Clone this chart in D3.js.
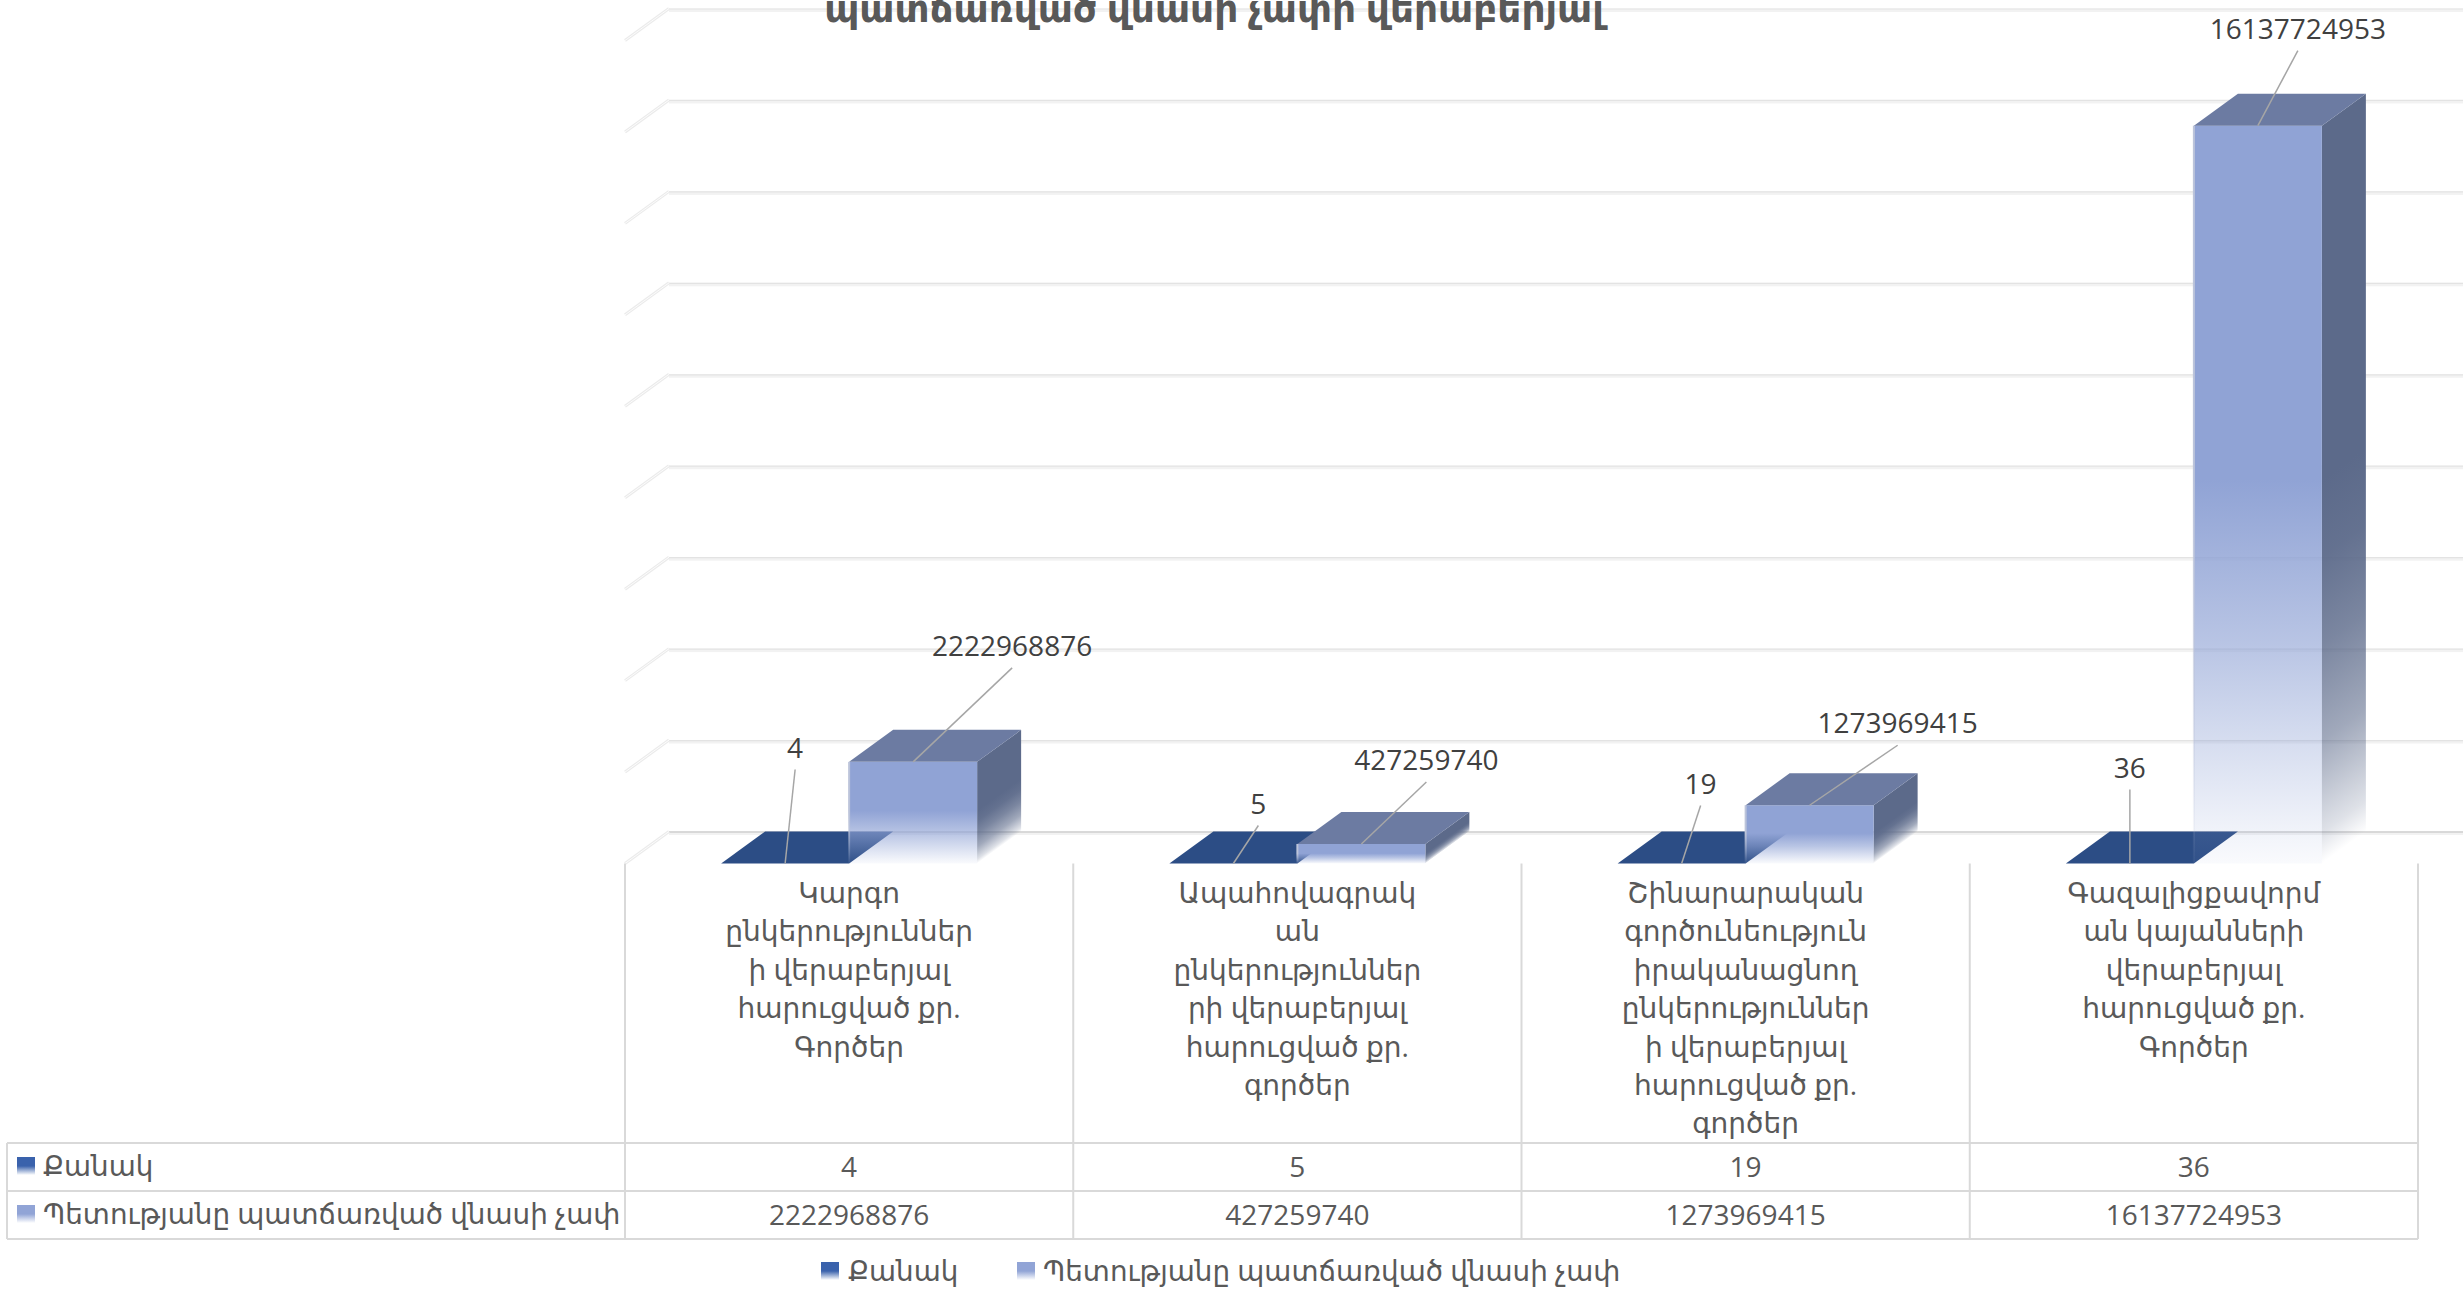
<!DOCTYPE html>
<html><head><meta charset="utf-8">
<script src="https://cdnjs.cloudflare.com/ajax/libs/d3/7.8.5/d3.min.js"></script>
<style>html,body{margin:0;padding:0;background:#fff;overflow:hidden}svg{display:block}
text{font-family:"Open Sans","DejaVu Sans",sans-serif}</style></head><body>
<svg id="c" width="2463" height="1289"></svg>
<script>
const titleText = "պատճառված վնասի չափի վերաբերյալ";
const categoryLines = [
 ["Կարգո","ընկերություններ","ի վերաբերյալ","հարուցված քր.","Գործեր"],
 ["Ապահովագրակ","ան","ընկերություններ","րի վերաբերյալ","հարուցված քր.","գործեր"],
 ["Շինարարական","գործունեություն","իրականացնող","ընկերություններ","ի վերաբերյալ","հարուցված քր.","գործեր"],
 ["Գազալիցքավորմ","ան կայանների","վերաբերյալ","հարուցված քր.","Գործեր"]
];
const seriesNames = ["Քանակ","Պետությանը պատճառված վնասի չափ"];
const countValues = [4,5,19,36];
const damageValues = [2222968876,427259740,1273969415,16137724953];
const yTickCount = 9;
const yMax = 18000000000;

// layout
const W=2463,H=1289, baseY=863.5, topY=40.5, plotL=625, plotR=2418, depthX=44, depthY=32, barW=128;
const rowY=[1143,1191,1239], tableL=7;
const labelOffsets=[
 [[10,-116],[25,-60],[19,-80],[0,-96]],
 [[99,-116],[65,-84],[88,-82],[40,-97]]
];
const frontStops=[[.48,1],[.7,.64],[.83,.38],[.956,.13],[1,.05]];
const sideStops=[[0,1],[.2,.95],[.43,.81],[.68,.58],[.92,.2],[1,0]];

const svg=d3.select("#c"), defs=svg.append("defs");
const x=d3.scaleBand().domain(d3.range(categoryLines.length)).range([plotL,plotR]);
const y=d3.scaleLinear().domain([0,yMax]).range([baseY,topY]);

const addStops=(g,col,stops)=>stops.forEach(([o,a])=>g.append("stop").attr("offset",o).attr("stop-color",col).attr("stop-opacity",a));
const fade=(id,col,stops)=>{const g=defs.append("linearGradient").attr("id",id).attr("x1",0).attr("y1",0).attr("x2",0).attr("y2",1);addStops(g,col,stops);};
fade("frontFade","#90a3d5",frontStops);
fade("edgeFade","#bcc4da",frontStops);
fade("key0","#3a62ac",[[.5,1],[1,0]]); fade("key1","#91a4d6",[[.5,1],[1,0]]);

// grid
const gridG=svg.append("g");
y.ticks(yTickCount).forEach(t=>{
 const yb=y(t)-depthY, xb=plotL+depthX;
 gridG.append("rect").attr("x",xb).attr("y",yb).attr("width",W-xb).attr("height",3.5).attr("fill","#f2f2f2");
 gridG.append("line").attr("x1",xb).attr("x2",W).attr("y1",yb+.5).attr("y2",yb+.5).attr("stroke",t===0?"#cfcfcf":"#e3e3e3").attr("stroke-width",t===0?1.5:1.2);
 gridG.append("line").attr("x1",plotL).attr("y1",y(t)).attr("x2",xb).attr("y2",yb).attr("stroke","#ebebeb").attr("stroke-width",3);
 gridG.append("line").attr("x1",plotL).attr("y1",y(t)).attr("x2",xb).attr("y2",yb).attr("stroke","#fcfcfc").attr("stroke-width",1);
});

// table frame
const tg=svg.append("g").attr("stroke","#d9d9d9").attr("stroke-width",2);
d3.range(categoryLines.length+1).forEach(i=>{
 const xx=i<categoryLines.length?x(i):plotR;
 tg.append("line").attr("x1",xx).attr("x2",xx).attr("y1",baseY).attr("y2",rowY[2]);
});
tg.append("line").attr("x1",tableL).attr("x2",tableL).attr("y1",rowY[0]).attr("y2",rowY[2]);
rowY.forEach(r=>tg.append("line").attr("x1",tableL).attr("x2",plotR).attr("y1",r).attr("y2",r));

// bars
const poly=pts=>pts.map(p=>p.join(",")).join(" ");
const barsG=svg.append("g");
const drawBar=(i,s,v)=>{
 const x0=x(i)+x.bandwidth()/2+(s===0?-barW:0), x1=x0+barW, yt=y(v), yb=baseY, h=yb-yt;
 const g=barsG.append("g");
 if(s===1){
  const ys=yt+0.48*h, n=Math.hypot(depthX,depthY), nx=depthY/n, ny=depthX/n, t=(yb-ys)*ny;
  const gid=`side${i}`, sg=defs.append("linearGradient").attr("id",gid).attr("gradientUnits","userSpaceOnUse")
   .attr("x1",x1).attr("y1",ys).attr("x2",x1+t*nx).attr("y2",ys+t*ny);
  addStops(sg,"#5c6a8a",sideStops);
  g.append("polygon").attr("points",poly([[x1,yt],[x1+depthX,yt-depthY],[x1+depthX,yb-depthY],[x1,yb]])).attr("fill",`url(#${gid})`);
  g.append("rect").attr("x",x0).attr("y",yt).attr("width",barW).attr("height",h).attr("fill","url(#frontFade)");
  g.append("rect").attr("x",x0-1).attr("y",yt).attr("width",2).attr("height",h).attr("fill","url(#edgeFade)");
 }
 g.append("polygon").attr("points",poly([[x0,yt],[x0+depthX,yt-depthY],[x1+depthX,yt-depthY],[x1,yt]])).attr("fill",s===0?"#2c4d85":"#6c7ba2");
};
countValues.forEach((v,i)=>drawBar(i,0,v));
damageValues.forEach((v,i)=>drawBar(i,1,v));

// data labels with leaders
const lab=svg.append("g");
const drawLabel=(i,s,v)=>{
 const ax=x(i)+x.bandwidth()/2+(s===0?-barW/2:barW/2), ay=y(v);
 const [dx,dy]=labelOffsets[s][i];
 lab.append("line").attr("x1",ax+dx).attr("y1",ay+dy+22).attr("x2",ax).attr("y2",ay).attr("stroke","#a6a6a6").attr("stroke-width",1.5);
 lab.append("text").attr("x",ax+dx).attr("y",ay+dy+10).attr("text-anchor","middle").attr("font-size",28).attr("fill","#404040").text(v);
};
countValues.forEach((v,i)=>drawLabel(i,0,v));
damageValues.forEach((v,i)=>drawLabel(i,1,v));

// category labels
categoryLines.forEach((lines,i)=>{
 lines.forEach((l,k)=>svg.append("text").attr("x",x(i)+x.bandwidth()/2).attr("y",903+k*38.4).attr("text-anchor","middle")
  .attr("font-size",28).attr("fill","#595959").text(l));
});

// table values
[countValues,damageValues].forEach((vals,r)=>vals.forEach((v,i)=>{
 svg.append("text").attr("x",x(i)+x.bandwidth()/2).attr("y",rowY[r]+34).attr("text-anchor","middle").attr("font-size",28).attr("fill","#595959").text(v);
}));
// table legend + bottom legend
const key=(xx,yy,s)=>svg.append("rect").attr("x",xx).attr("y",yy).attr("width",18).attr("height",18).attr("fill",`url(#key${s})`);
seriesNames.forEach((n,s)=>{
 key(17,rowY[s]+14,s);
 svg.append("text").attr("x",43).attr("y",rowY[s]+33).attr("font-size",27.8).attr("fill","#595959").text(n);
});
[[821,848],[1017,1043]].forEach(([kx,tx],s)=>{
 key(kx,1262,s);
 svg.append("text").attr("x",tx).attr("y",1281).attr("font-size",27.8).attr("fill","#595959").text(seriesNames[s]);
});
// title (the reference shows it running off the top edge of the page)
svg.append("text").attr("x",1214).attr("y",22).attr("text-anchor","middle").attr("font-size",37.5).attr("font-weight","bold").attr("fill","#595959").text(titleText);
</script></body></html>
